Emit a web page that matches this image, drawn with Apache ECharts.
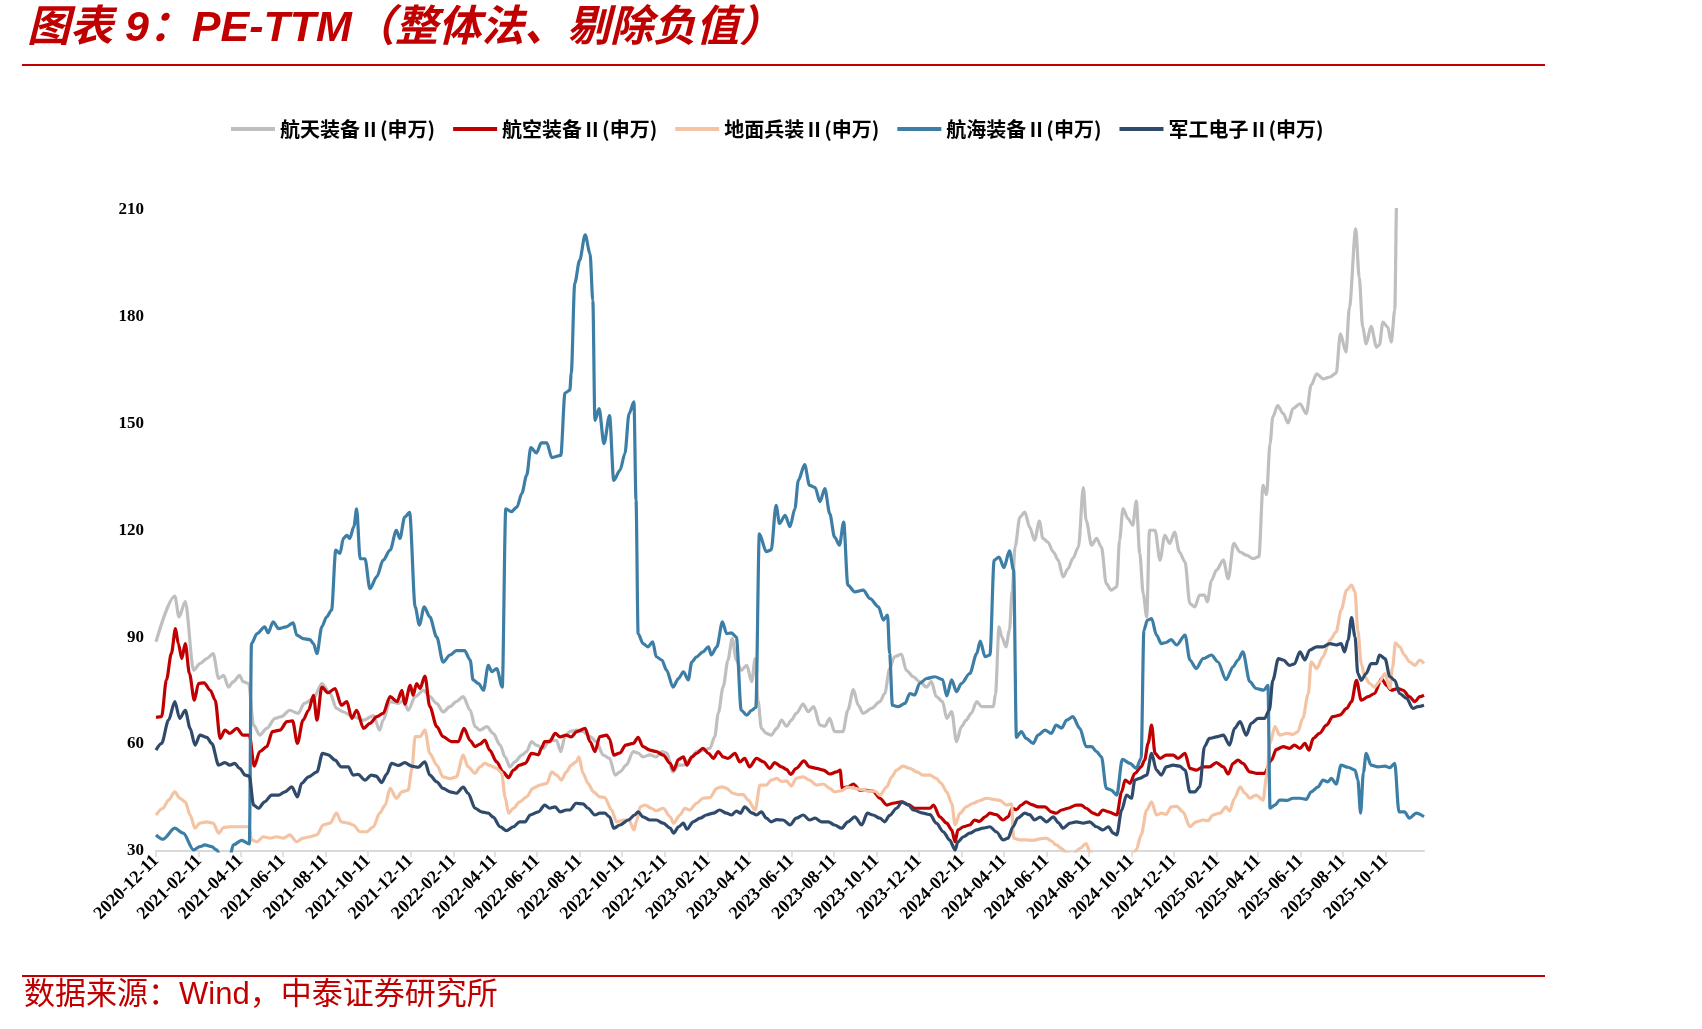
<!DOCTYPE html>
<html>
<head>
<meta charset="utf-8">
<title>PE-TTM</title>
<script src="https://cdn.jsdelivr.net/npm/echarts@6/dist/echarts.min.js"></script>
<style>
  html, body { margin: 0; padding: 0; background: #fff; }
  #chart { width: 1702px; height: 1029px; }
</style>
</head>
<body>
<div id="chart"></div>
<script>
// 横轴刻度标签（每两个月）
const tickLabels = ['2020-12-11','2021-02-11','2021-04-11','2021-06-11','2021-08-11','2021-10-11',
  '2021-12-11','2022-02-11','2022-04-11','2022-06-11','2022-08-11','2022-10-11','2022-12-11',
  '2023-02-11','2023-04-11','2023-06-11','2023-08-11','2023-10-11','2023-12-11','2024-02-11',
  '2024-04-11','2024-06-11','2024-08-11','2024-10-11','2024-12-11','2025-02-11','2025-04-11',
  '2025-06-11','2025-08-11','2025-10-11'];
const lastDay = 1820; // 数据最后一天（距 2020-12-11 的天数）

// 各序列：[距 2020-12-11 的天数, PE-TTM]
const hangtian = [[0,88.7],[27,101.5],[33,95.7],[42,100],[54,80.7],[63,82.6],[73,84],[82,85.4],[90,78.4],[97,79.3],[104,76],[111,77.5],[120,79.3],[125,77.5],[133,77],[140,65.3],[149,62.5],[159,64.4],[171,67.2],[180,67.7],[192,69.5],[204,68.6],[213,71.4],[226,72.8],[238,77],[250,74.2],[259,70],[269,69],[283,67.7],[298,66.7],[312,68],[321,63.9],[326,66.7],[336,71.9],[348,71.4],[355,72.3],[362,69.5],[372,73.3],[384,75.1],[393,73.3],[403,71.4],[412,69],[422,70.5],[431,71.9],[441,73.3],[451,69.5],[458,64.9],[465,63.9],[475,64.9],[484,63],[494,59.7],[501,56.4],[508,53.6],[515,55],[525,56.9],[532,57.9],[539,60.7],[546,59.7],[556,58.8],[565,61.1],[575,61],[581,57.9],[587,62.1],[594,63.5],[604,63.9],[613,63.5],[623,62.1],[632,60.7],[642,56.9],[651,56],[659,51.3],[666,52.2],[675,54.1],[685,57.9],[692,57.5],[699,56.4],[709,57],[718,56.4],[726,57.9],[733,57.5],[742,52.2],[750,54.1],[757,54.1],[766,55.5],[776,57.9],[785,58.3],[795,58.8],[802,62.1],[807,68.6],[814,76],[821,83.6],[827,89.6],[833,83.6],[840,80.7],[848,82.1],[855,77.5],[860,84],[864,72.3],[869,64.4],[876,63],[883,62.5],[891,64.4],[898,66.7],[905,65],[912,66.7],[919,68.6],[929,71.2],[936,69.1],[944,70.5],[953,65.3],[960,65],[967,67.2],[974,63.5],[986,63.5],[993,69.5],[1001,75.3],[1008,70.9],[1015,68.6],[1027,70],[1039,71.9],[1046,74.2],[1053,81.2],[1060,84.5],[1070,85.2],[1077,80.7],[1087,78.9],[1096,77.5],[1106,76],[1113,77.5],[1120,73.3],[1129,71.9],[1135,67.2],[1142,69.1],[1149,60.7],[1156,64.9],[1163,66.7],[1170,68.6],[1178,71.9],[1185,70.5],[1202,70.5],[1205,74.2],[1210,92.9],[1214,90.1],[1220,87.3],[1225,92],[1229,103.2],[1233,115.3],[1240,123.7],[1247,125.1],[1254,120.9],[1261,117.2],[1268,122.6],[1273,117.7],[1280,116.7],[1288,113.9],[1295,111.6],[1302,106.9],[1309,109.2],[1316,112.1],[1324,115.3],[1331,132],[1335,122.8],[1343,115.8],[1350,117.7],[1357,115.3],[1364,105],[1371,103.2],[1379,104.1],[1383,117.2],[1388,126.1],[1395,123.3],[1402,121.4],[1407,128.2],[1412,113.5],[1417,102.2],[1422,95.7],[1426,120],[1434,120],[1441,111.6],[1448,118.6],[1455,116.3],[1462,119.5],[1469,113.9],[1477,111.1],[1484,99.4],[1491,98.5],[1498,101.8],[1505,101.8],[1509,99.9],[1515,105.9],[1522,108.8],[1532,111.6],[1539,106.4],[1547,116.3],[1556,113.9],[1565,113],[1575,112],[1583,112.6],[1589,132.6],[1594,130],[1599,144.3],[1603,151.8],[1610,155],[1618,152.7],[1625,150.1],[1632,154.1],[1642,155.5],[1651,152.7],[1658,160.7],[1666,163.9],[1675,162.5],[1685,163],[1694,164.1],[1700,175.1],[1708,170],[1713,182.6],[1722,204.6],[1727,191],[1732,177],[1737,172.3],[1744,177.2],[1752,171.4],[1756,172],[1761,178.4],[1768,177],[1773,172.8],[1778,181.7],[1781,215],[1790,225],[1800,222],[1810,228],[1820,230]];

const hangkong = [[0,67.5],[8,67.7],[15,78],[22,85.4],[28,92.4],[32,88.2],[37,84],[42,88.2],[48,79.8],[55,72.3],[61,77],[69,77.2],[78,75.1],[85,72.3],[92,61.6],[99,63.9],[106,63],[116,64.4],[125,62.5],[134,62.5],[141,53.8],[149,57.9],[159,59.3],[167,63.5],[178,63.9],[188,66.3],[196,66.5],[203,60.2],[211,66.7],[219,69.5],[226,73.7],[231,66.7],[238,76],[247,74.4],[257,75.6],[266,70.9],[274,71.9],[281,67.2],[288,69.5],[298,64.4],[307,65.8],[317,67.7],[326,68.6],[336,73.3],[346,71.9],[353,75.1],[357,71.2],[365,76.5],[369,73.7],[374,77],[379,75.6],[386,79.1],[393,70.5],[403,64.9],[412,62.1],[424,60.7],[434,60.7],[442,64.4],[451,61],[458,59.3],[465,60],[472,61.1],[479,58.3],[489,55],[498,52.2],[506,50.6],[513,52.7],[522,54.1],[530,54.6],[539,57.4],[549,57],[553,58.8],[558,60.7],[565,60.7],[573,63],[580,62],[589,62.5],[596,62],[604,63.5],[616,64.4],[623,60.7],[630,57.9],[637,62.1],[647,62.5],[651,61.5],[657,56.9],[666,57.5],[674,59.7],[685,60.2],[692,61.9],[699,59.3],[709,58.3],[718,57.9],[728,56.9],[738,54.6],[743,52.7],[750,55.7],[757,56.4],[762,54.1],[769,56.4],[776,57.4],[785,58.8],[793,57.4],[800,56],[807,57.9],[814,56.4],[821,56],[831,57.4],[838,55],[845,56],[852,53.6],[862,56],[872,55],[881,53.2],[888,54.8],[898,53.6],[905,52.9],[911,51.5],[919,53.2],[930,55.3],[938,53.6],[948,53.2],[958,52.7],[967,51.6],[977,52.2],[982,52.7],[985,47.6],[993,48],[1001,48.8],[1010,47.1],[1020,47],[1029,46.8],[1039,44.8],[1049,42.9],[1058,43.4],[1070,43.8],[1080,43],[1089,42],[1101,42],[1111,42],[1116,42.9],[1125,39.6],[1135,37.8],[1142,35.9],[1147,32.6],[1151,35.9],[1159,36.8],[1168,37.3],[1175,38.7],[1182,38.3],[1190,39.6],[1197,40.6],[1206,40.2],[1216,38.7],[1223,39.6],[1229,42],[1235,41.6],[1242,42.9],[1249,43.8],[1257,43],[1266,42.4],[1276,42.4],[1285,41],[1292,40.6],[1300,41.5],[1309,42],[1321,42.9],[1328,42.9],[1335,42],[1345,40.6],[1352,40.1],[1359,41.5],[1367,41],[1379,40.1],[1386,46.6],[1391,49.9],[1398,49],[1405,51.8],[1414,53.6],[1419,55.5],[1424,60.2],[1429,65.3],[1434,57.4],[1441,56],[1450,56.9],[1460,56.9],[1467,56],[1477,57.4],[1484,53.2],[1493,52.7],[1503,53.6],[1512,53.6],[1522,54.8],[1532,53.6],[1539,51.6],[1546,54.6],[1553,55.5],[1560,54.6],[1570,52.2],[1579,51.8],[1591,51.8],[1601,55.5],[1608,58.5],[1618,59.3],[1627,58.8],[1634,59.7],[1642,58.8],[1649,60.2],[1655,58.3],[1661,61.6],[1670,63],[1680,65.3],[1689,67.7],[1699,68.1],[1709,70],[1716,71.9],[1723,77.9],[1730,72.3],[1740,73.3],[1749,74.2],[1759,78.4],[1766,76.5],[1773,75.1],[1783,75.6],[1790,75.1],[1799,73.3],[1807,71.9],[1814,73.3],[1820,73.7]];

const dimian = [[0,40.1],[10,42],[18,44.3],[27,46.6],[34,44.8],[42,43.8],[49,40.1],[56,36.4],[63,37.8],[73,38.2],[82,37.8],[90,35],[97,36.6],[106,36.8],[116,36.8],[125,36.8],[134,36.8],[137,33.1],[145,32.6],[154,34],[164,33.6],[173,34],[183,33.6],[192,34.5],[202,32.6],[211,33.6],[221,34],[231,34.5],[240,37.3],[250,37.8],[259,40.6],[266,38.2],[276,37.8],[283,37.3],[293,35.4],[302,35.4],[312,36.8],[321,40.6],[329,42.9],[336,47.6],[345,44.8],[353,46.6],[362,47.1],[367,52.7],[372,62.1],[379,62.1],[386,63.9],[393,57.4],[403,54.1],[412,50.8],[422,50.3],[431,50.8],[441,56.9],[448,53.6],[458,51.8],[465,53.6],[472,54.6],[479,54],[489,53.2],[496,52],[501,45.2],[506,40.6],[513,42],[522,43.8],[532,45.2],[541,47.6],[551,48.5],[561,49],[568,52.2],[575,51.3],[582,49.9],[589,52.2],[596,54.1],[603,55],[607,56.4],[613,51.8],[620,49],[628,46.6],[637,45.2],[644,45],[654,41.5],[661,38.2],[671,38.7],[679,38.7],[686,35.9],[690,38.5],[695,42.4],[702,42.9],[711,42],[718,41.3],[728,42],[738,39.6],[743,37.8],[752,40.1],[759,42],[766,41.5],[776,43.4],[785,44.8],[795,45],[805,47.6],[812,48],[819,47.6],[828,46.2],[836,45.8],[843,45.8],[850,44.3],[860,41.5],[867,48.5],[876,48.5],[883,49.9],[891,50.4],[898,49.5],[905,49.7],[912,48.2],[919,50.4],[929,50.8],[938,49.9],[948,48.5],[958,48.8],[967,47.6],[974,46.6],[984,46.9],[993,47.9],[1003,47.6],[1013,47.2],[1022,46.8],[1032,46.8],[1039,45.7],[1049,48],[1056,50.8],[1063,52.7],[1072,53.8],[1082,53.2],[1092,52.2],[1101,51.3],[1111,51.3],[1120,50.4],[1127,49],[1135,46.6],[1142,43.4],[1147,37.3],[1154,40.6],[1163,42.4],[1173,43.4],[1182,44.1],[1192,44.8],[1202,44.5],[1211,44.2],[1221,42.9],[1228,43.2],[1231,33.6],[1240,33.1],[1249,33.1],[1259,33],[1269,33.4],[1278,33.6],[1285,32.8],[1292,31.7],[1300,30.7],[1307,29.5],[1316,29],[1326,30.7],[1335,32.1],[1340,30],[1350,27],[1365,26],[1380,26],[1395,27],[1407,30.3],[1414,34.5],[1422,41.5],[1429,43.8],[1436,40.1],[1443,40.6],[1450,40.3],[1457,42.4],[1465,42.5],[1474,41],[1484,36.8],[1493,38.2],[1503,38.7],[1510,38.5],[1517,40.1],[1527,40.6],[1536,42.4],[1541,41.2],[1548,44.8],[1556,48],[1563,46.2],[1570,44.8],[1579,45.7],[1589,44.3],[1594,50.8],[1599,60.2],[1606,64.9],[1613,62.5],[1623,63],[1632,62.7],[1639,63.5],[1646,67.2],[1654,74.2],[1658,83.1],[1666,81.2],[1675,84.5],[1685,89.2],[1694,91.5],[1701,97.6],[1709,103.2],[1716,104.6],[1721,102.7],[1725,92],[1730,82.6],[1735,78.9],[1742,77],[1749,76],[1756,77.5],[1764,79.8],[1771,75.6],[1775,81.7],[1779,88.4],[1785,87.3],[1792,85],[1799,83.1],[1807,82.1],[1814,83.6],[1820,82.6]];

const hanghai = [[0,34.5],[10,33.3],[27,36.4],[39,35],[54,30.3],[63,31.2],[70,31.7],[80,31.2],[87,30.3],[94,28],[100,27],[106,28.5],[111,31.7],[123,33],[134,32],[137,88.2],[145,91],[156,92.9],[161,91.2],[168,94.3],[176,92.4],[187,92.9],[197,94],[202,90.6],[211,89.6],[221,89.3],[226,88.2],[231,85.4],[238,92.9],[245,95.7],[252,97.6],[258,114.4],[264,113.5],[269,117.7],[274,118.6],[278,117.7],[284,121],[288,126],[293,112],[300,112],[307,103.6],[317,107],[326,111.6],[336,114.4],[345,120],[350,117.7],[357,123.7],[364,125],[372,98.5],[378,93.4],[385,98.5],[393,95.7],[403,90],[412,83],[422,85],[431,86.2],[443,86.2],[451,83.6],[455,78],[463,77],[470,75.1],[477,82.1],[482,80.3],[489,81.2],[497,76],[502,126],[510,125.2],[518,126.5],[525,130.3],[532,135.4],[538,143.2],[546,141.7],[553,144.5],[561,144.5],[568,140.4],[581,141],[587,158.5],[594,159.3],[596,164],[601,189.2],[608,195.7],[616,202.9],[623,197.6],[627,184.5],[630,150.8],[636,154.1],[643,144.3],[651,152.2],[657,134],[666,136.8],[673,141.5],[679,152.7],[686,156],[689,128.4],[692,91],[699,88.2],[706,87.3],[713,88.7],[718,84.5],[726,83.6],[733,80.7],[742,76],[750,78.4],[757,80.3],[764,78],[769,83],[776,84.5],[785,85.9],[793,87.3],[797,85],[805,87.3],[813,94.3],[819,91],[826,91.2],[833,90],[840,69.5],[848,68.1],[855,69.5],[861,70.3],[866,119],[876,114],[883,114.5],[890,127],[895,121.9],[903,124.2],[910,121],[917,126],[922,134],[931,138.4],[938,132.6],[946,132],[953,128],[960,131.7],[967,124.7],[974,118.1],[981,115.8],[987,122.3],[993,104.6],[1003,102.7],[1015,103.2],[1025,100.8],[1037,98.5],[1044,94.8],[1050,96.2],[1053,85.4],[1057,70.9],[1065,70.5],[1075,71.4],[1082,74.2],[1089,73.8],[1096,77],[1106,78.4],[1118,78.9],[1129,78.1],[1135,73.5],[1142,78],[1149,74.7],[1156,77],[1168,79.8],[1178,85.4],[1183,88.9],[1190,84.5],[1197,85],[1203,111.6],[1210,112.5],[1217,109.5],[1225,114.2],[1231,108.8],[1235,61.9],[1242,63.5],[1249,61.6],[1259,60.2],[1266,62.5],[1276,63.9],[1285,63],[1292,65.3],[1300,64.5],[1307,66.7],[1316,67.7],[1326,64.4],[1335,59.3],[1343,59.3],[1350,57.9],[1357,56.4],[1364,47.6],[1371,47.1],[1379,45.7],[1387,55.7],[1398,54.6],[1407,53.2],[1414,56],[1418,92],[1423,94.8],[1429,95.2],[1436,90.6],[1443,88.2],[1450,88.5],[1457,89.3],[1465,87.8],[1477,90.6],[1484,83.6],[1493,81.2],[1503,84],[1515,85],[1524,83.1],[1536,78.1],[1546,81.7],[1553,83.6],[1560,85.9],[1570,77.5],[1579,75.6],[1590,75.1],[1596,76.5],[1599,42],[1606,42.9],[1613,44.3],[1623,44.2],[1632,44.8],[1642,44.8],[1651,44.5],[1658,46.6],[1668,48],[1675,49.9],[1682,49.4],[1687,50.4],[1694,48.8],[1701,54.1],[1711,53.5],[1721,52.7],[1725,50],[1729,40.6],[1733,52],[1737,57.4],[1744,54.1],[1754,53.6],[1764,53.8],[1771,53.4],[1778,54.6],[1784,41],[1792,41],[1799,39.2],[1809,40.6],[1820,39.6]];

const junggong = [[0,58.3],[8,60.2],[18,66.7],[27,71.9],[34,67.2],[42,69.5],[49,64.4],[56,59.7],[63,62.5],[73,61.9],[80,60.2],[90,54.1],[99,54.8],[106,54.1],[113,54.6],[120,53.2],[128,51.3],[134,51],[140,42.9],[147,42],[156,43.8],[166,45.7],[176,45.7],[185,46.6],[195,48],[203,45.2],[209,49],[219,50.8],[231,52.2],[239,57.4],[247,57],[257,55.5],[266,53.6],[276,53.6],[283,51.3],[290,51.5],[300,49.9],[309,51.3],[316,51],[324,49.2],[331,51.5],[338,54.6],[348,54],[357,54.8],[367,53.8],[376,53.5],[386,55],[393,51.3],[403,49.4],[412,47.6],[422,46.6],[431,46.2],[441,47.9],[448,46.2],[458,42],[467,41],[477,40.6],[484,39.5],[494,36.8],[503,35.7],[513,36.8],[522,38.2],[530,38.2],[537,40.1],[549,41],[558,42.9],[565,42],[573,42.4],[580,41],[589,41.5],[594,41.5],[603,43.4],[613,43.2],[620,42],[630,40.1],[637,40.6],[644,40.6],[651,39.6],[657,36.4],[666,37.3],[678,38.7],[687,40.1],[692,41],[699,39.6],[709,38.7],[718,38.7],[728,37.8],[738,36.4],[743,35],[750,36.8],[757,37.8],[762,36.1],[771,38.2],[781,39.2],[790,40.1],[800,40.6],[809,41.5],[819,40.6],[826,40.1],[833,41.2],[839,40.6],[845,42.4],[855,40.7],[862,40.1],[869,41],[876,39.2],[883,38.2],[891,38.8],[900,38.7],[910,37.3],[919,39.2],[929,40.1],[938,38.7],[946,39.2],[955,38.2],[965,38.2],[974,37.3],[984,36.4],[993,38.2],[1003,39.6],[1013,37.3],[1021,40.6],[1029,40.1],[1039,39.2],[1046,38.2],[1053,40],[1063,42],[1071,43.8],[1080,42.9],[1087,41.5],[1101,40.6],[1111,40.2],[1120,37.8],[1130,35.4],[1139,33.1],[1147,30.3],[1151,32.6],[1159,34],[1168,35],[1178,35.9],[1187,36.4],[1197,36.8],[1206,35.4],[1216,33.1],[1223,33.6],[1230,36.8],[1237,39.2],[1247,40.6],[1254,40.2],[1261,38.7],[1269,39.5],[1278,38.2],[1288,39.6],[1295,38],[1302,36.4],[1312,37.8],[1321,38.2],[1331,37.8],[1340,38.2],[1350,36.8],[1359,35.9],[1367,36.8],[1374,35],[1379,34.5],[1386,41.5],[1393,45.7],[1400,44.8],[1405,49.9],[1412,50.4],[1422,51.3],[1429,57.4],[1436,52.7],[1443,51.3],[1450,53.6],[1460,54.1],[1469,53.8],[1477,52.7],[1484,46.6],[1491,46.6],[1498,48],[1505,59.3],[1512,61.6],[1522,62],[1532,62.5],[1541,59.7],[1548,64.4],[1556,66.3],[1565,62.5],[1572,65.8],[1582,67.2],[1591,67.2],[1598,69.5],[1603,77.9],[1611,84],[1618,83.6],[1627,82.1],[1634,82.5],[1642,85.9],[1649,83.6],[1656,86.4],[1666,87.3],[1675,87.3],[1685,88.2],[1694,87.8],[1701,88.2],[1706,85.9],[1711,89.2],[1716,95.5],[1721,90.1],[1725,79.8],[1730,77.9],[1737,79.8],[1744,82.6],[1752,82.6],[1756,85],[1764,84],[1771,78.9],[1778,77.9],[1785,74.2],[1795,72.8],[1804,70],[1811,70.5],[1820,70.9]];

const seriesNames = ['航天装备Ⅱ(申万)', '航空装备Ⅱ(申万)', '地面兵装Ⅱ(申万)', '航海装备Ⅱ(申万)', '军工电子Ⅱ(申万)'];
const seriesColors = ['#BFBFBF', '#C00000', '#F4C3A4', '#3C7EA6', '#2F4A6B'];
const seriesData = [hangtian, hangkong, dimian, hanghai, junggong];

function dayToTime(d) {
    return new Date(2020, 11, 11 + d).getTime();
}
function parseDate(s) {
    const p = s.split('-');
    return new Date(+p[0], +p[1] - 1, +p[2]).getTime();
}
function fmtDate(v) {
    const d = new Date(v);
    const m = d.getMonth() + 1, day = d.getDate();
    return d.getFullYear() + '-' + (m < 10 ? '0' + m : m) + '-' + (day < 10 ? '0' + day : day);
}
const tickTimes = tickLabels.map(parseDate);

const red = '#C00000';
const cjk = "'Liberation Sans', 'Noto Sans CJK SC', sans-serif";
const serif = "'Liberation Serif', 'Noto Sans CJK SC', serif";

const myChart = echarts.init(document.getElementById('chart'));
const option = {
    animation: false,
    backgroundColor: '#fff',
    graphic: [
        {
            type: 'text', left: 27, top: 8,
            style: { text: '图表 9：PE-TTM（整体法、剔除负值）', fill: red,
                font: 'italic bold 43px ' + cjk }
        },
        { type: 'line', shape: { x1: 22, y1: 65, x2: 1545, y2: 65 }, style: { stroke: red, lineWidth: 2 } },
        { type: 'line', shape: { x1: 22, y1: 976, x2: 1545, y2: 976 }, style: { stroke: red, lineWidth: 2 } },
        {
            type: 'text', left: 24, top: 980,
            style: { text: '数据来源：Wind，中泰证券研究所', fill: red, font: '31px ' + cjk }
        }
    ],
    legend: {
        left: 226,
        top: 114,
        icon: 'rect',
        itemWidth: 44,
        itemHeight: 4,
        itemGap: 18,
        data: seriesNames,
        textStyle: {
            fontFamily: "'Noto Sans CJK SC', sans-serif",
            fontWeight: 'bold',
            fontSize: 20,
            color: '#000'
        }
    },
    grid: {
        left: 156,
        right: 278,
        top: 209.5,
        bottom: 178
    },
    xAxis: {
        type: 'value',
        min: dayToTime(0),
        max: dayToTime(lastDay),
        splitLine: { show: false },
        axisLine: { lineStyle: { color: '#D9D9D9', width: 2 } },
        axisTick: {
            show: true,
            customValues: tickTimes,
            length: 6,
            lineStyle: { color: '#D9D9D9', width: 1.5 }
        },
        axisLabel: {
            customValues: tickTimes,
            rotate: 45,
            margin: 7,
            formatter: fmtDate,
            fontFamily: serif,
            fontWeight: 'bold',
            fontSize: 18,
            color: '#000'
        }
    },
    yAxis: {
        type: 'value',
        min: 30,
        max: 210,
        interval: 30,
        splitLine: { show: false },
        axisLine: { show: false },
        axisTick: { show: false },
        axisLabel: {
            margin: 12,
            fontFamily: serif,
            fontWeight: 'bold',
            fontSize: 17,
            color: '#000'
        }
    },
    series: seriesData.map((arr, i) => ({
        name: seriesNames[i],
        type: 'line',
        color: seriesColors[i],
        smooth: 0.3,
        smoothMonotone: 'x',
        symbol: 'none',
        clip: true,
        lineStyle: { width: 3.2, color: seriesColors[i] },
        data: arr.map(p => [dayToTime(p[0]), p[1]])
    }))
};
myChart.setOption(option);

window.addEventListener('resize', () => {
    myChart.resize();
});
</script>
</body>
</html>
